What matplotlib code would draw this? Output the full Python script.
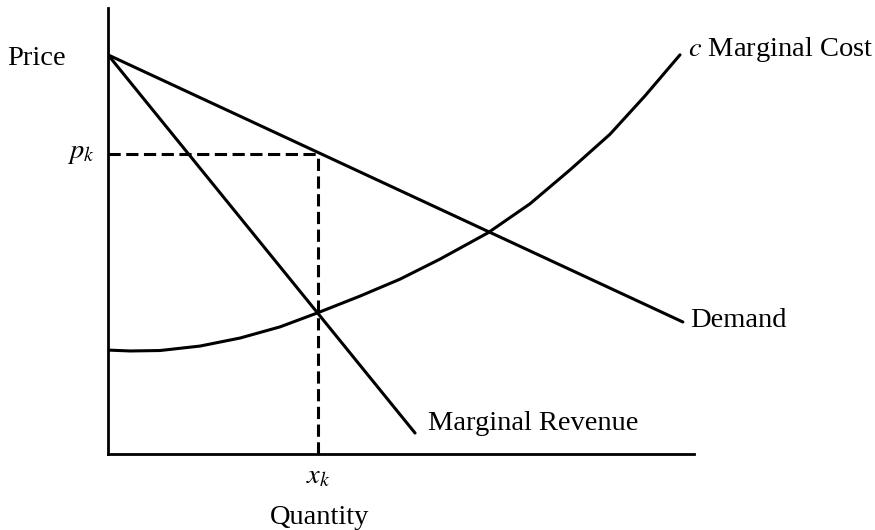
import numpy as np
import matplotlib.pyplot as plt

plt.rcParams['font.family'] = ['Liberation Serif', 'DejaVu Serif']
plt.rcParams['mathtext.fontset'] = 'stix'

# curves in plot units (quantity 0-100, price 0-100)
demand_q = [0, 98.1]
demand_p = [89.5, 29.6]

mr_q = [0, 52.4]
mr_p = [89.5, 4.7]

mc_q = [0, 3.75, 8.87, 15.70, 22.53, 29.35, 35.67, 43.0, 49.83, 56.66,
        64.85, 72.01, 78.84, 85.67, 91.64, 97.61]
mc_p = [23.3, 23.1, 23.2, 24.2, 26.0, 28.5, 31.6, 35.4, 39.2, 43.7,
        49.6, 56.1, 63.7, 71.7, 80.3, 89.5]

x_k = 35.8
p_k = 67.3

fig = plt.figure(figsize=(8.75, 5.3), dpi=100)
ax = fig.add_axes([108 / 875, 76 / 530, 586 / 875, 446 / 530])
ax.set_xlim(0, 100)
ax.set_ylim(0, 100)

lw = 2.2
ax.plot(demand_q, demand_p, color='black', lw=lw, solid_capstyle='round')
ax.plot(mr_q, mr_p, color='black', lw=lw, solid_capstyle='round')
ax.plot(mc_q, mc_p, color='black', lw=lw, solid_capstyle='round',
        solid_joinstyle='round')

# dashed guides to the profit maximising point
ax.plot([0, x_k], [p_k, p_k], color='black', lw=2.2, linestyle=(0, (4, 1.8)))
ax.plot([x_k, x_k], [0, p_k], color='black', lw=2.2, linestyle=(0, (4, 1.8)))

for side in ['top', 'right']:
    ax.spines[side].set_visible(False)
for side in ['left', 'bottom']:
    ax.spines[side].set_linewidth(2)
ax.set_xticks([])
ax.set_yticks([])

fs = 20.5
ax.text(-0.072, 0.886, 'Price', transform=ax.transAxes, fontsize=fs,
        ha='right', va='center')
ax.text(-0.022, p_k, r'$p_k$', transform=ax.get_yaxis_transform(), fontsize=fs,
        ha='right', va='center')
ax.text(x_k, -0.052, r'$x_k$', transform=ax.get_xaxis_transform(), fontsize=fs,
        ha='center', va='center')
ax.text(x_k + 0.3, -0.142, 'Quantity', transform=ax.get_xaxis_transform(), fontsize=fs,
        ha='center', va='center')

ax.annotate('Demand', (demand_q[-1], demand_p[-1]), xytext=(5, 1),
            textcoords='offset points', fontsize=fs, ha='left', va='center',
            annotation_clip=False)
ax.annotate('Marginal Revenue', (mr_q[-1], mr_p[-1]), xytext=(9, 7),
            textcoords='offset points', fontsize=fs, ha='left', va='center',
            annotation_clip=False)
ax.annotate(r'$c$ Marginal Cost', (mc_q[-1], mc_p[-1]), xytext=(6, 4),
            textcoords='offset points', fontsize=fs, ha='left', va='center',
            annotation_clip=False)

fig.savefig('out.png', dpi=100)
